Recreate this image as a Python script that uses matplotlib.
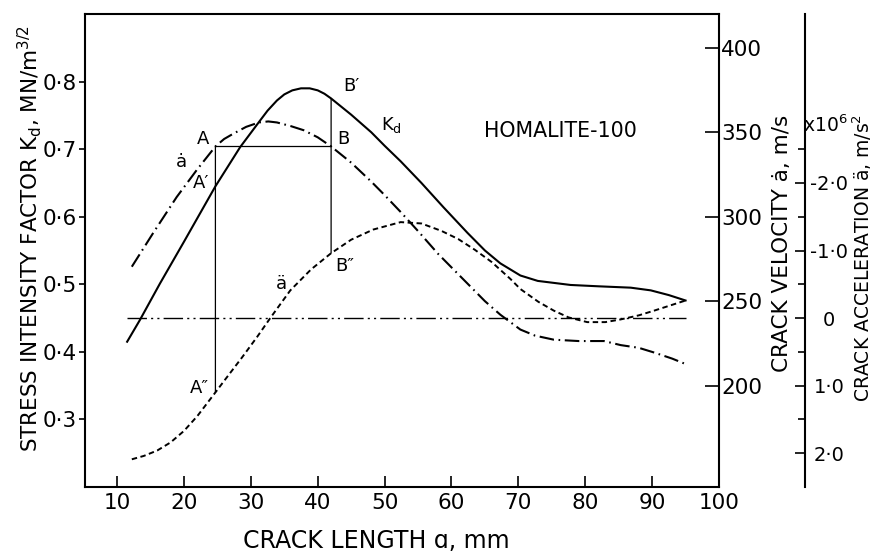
import matplotlib
matplotlib.use("Agg")
import matplotlib.pyplot as plt
from matplotlib.patches import ConnectionPatch
from matplotlib.transforms import blended_transform_factory

plt.rcParams['font.family'] = ['DejaVu Sans']
plt.rcParams['mathtext.fontset'] = 'dejavusans'

# ---------------- data ----------------
# Stress intensity factor Kd (MN/m^3/2) vs crack length (mm)
kd_x = [11.5, 13.4, 16.4, 20.0, 24.7, 28.4, 31.2, 32.5, 33.9, 35.0, 36.2, 37.5,
        38.8, 40.0, 41.0, 42.0, 43.5, 45.0, 48.0, 50.0, 52.4, 55.5, 58.8, 62.4,
        65.0, 67.3, 70.3, 72.9, 77.8, 82.0, 86.8, 89.8, 92.5, 95.0]
kd_y = [0.415, 0.447, 0.501, 0.563, 0.645, 0.703, 0.740, 0.757, 0.772, 0.781, 0.787, 0.790,
        0.790, 0.787, 0.782, 0.775, 0.763, 0.751, 0.725, 0.705, 0.682, 0.650, 0.614, 0.576,
        0.550, 0.531, 0.513, 0.505, 0.499, 0.497, 0.495, 0.491, 0.484, 0.476]

# Crack velocity (m/s)
vel_x = [12.2, 15.4, 18.9, 21.9, 24.7, 26.0, 27.4, 29.3, 31.2, 32.6, 33.9, 36.0,
         37.9, 40.0, 42.0, 45.0, 48.0, 50.0, 52.4, 55.0, 58.0, 62.0, 65.0, 67.3,
         70.3, 72.5, 75.3, 79.0, 82.8, 85.3, 88.0, 90.3, 93.0, 95.0]
vel_y = [270.4, 290.4, 311.6, 327.6, 341.6, 346.0, 349.2, 353.2, 355.8, 356.4, 355.8, 353.6,
         351.2, 347.0, 341.6, 332.0, 320.8, 312.8, 302.8, 291.5, 278.0, 262.0, 250.0, 242.0,
         233.2, 229.6, 227.2, 226.4, 226.4, 224.0, 222.4, 219.6, 216.0, 212.8]

# Crack acceleration (x10^6 m/s^2)
acc_x = [12.2, 14.0, 16.0, 18.0, 20.0, 22.0, 24.7, 26.0, 28.7, 31.0, 32.9, 35.9,
         39.0, 42.0, 45.0, 48.3, 52.4, 55.5, 58.5, 61.0, 63.5, 66.0, 68.8, 70.3,
         73.0, 75.3, 77.5, 80.3, 83.0, 85.3, 88.0, 90.3, 95.0]
acc_y = [2.09, 2.04, 1.96, 1.84, 1.67, 1.45, 1.10, 0.93, 0.58, 0.27, 0.00, -0.41,
         -0.72, -0.96, -1.16, -1.31, -1.42, -1.40, -1.29, -1.17, -1.01, -0.83, -0.58, -0.43,
         -0.24, -0.11, -0.01, 0.06, 0.06, 0.02, -0.04, -0.11, -0.26]

# zero-acceleration reference line
zero_x = [11.5, 95.0]
zero_y = [0.0, 0.0]

# construction points A and B (crack lengths)
point_a_x = 24.7
point_b_x = 42.0

# ticks
x_ticks = [10, 20, 30, 40, 50, 60, 70, 80, 90, 100]
x_tick_labels = ['10', '20', '30', '40', '50', '60', '70', '80', '90', '100']
k_ticks = [0.3, 0.4, 0.5, 0.6, 0.7, 0.8]
k_tick_labels = ['0·3', '0·4', '0·5', '0·6', '0·7', '0·8']
v_ticks = [200, 250, 300, 350, 400]
v_tick_labels = ['200', '250', '300', '350', '400']
a_ticks = [-2.0, -1.0, 0.0, 1.0, 2.0]
a_tick_labels = ['-2·0', '-1·0', '0', '1·0', '2·0']
a_minor_ticks = [-2.5, -1.5, -0.5, 0.5, 1.5]

# ---------------- figure ----------------
W, H = 873, 555
fig = plt.figure(figsize=(W / 100, H / 100), dpi=100)
L, R, T, B = 85, 719, 14, 487
ax = fig.add_axes([L / W, 1 - B / H, (R - L) / W, (B - T) / H])
ax_v = ax.twinx()
ax_a = ax.twinx()

ax.set_xlim(5.2, 100)
ax.set_ylim(0.2, 0.9)
ax_v.set_ylim(140, 420)
ax_a.set_ylim(2.5, -4.5)

lw_spine = 1.5
for s in ['top', 'left', 'bottom']:
    ax.spines[s].set_linewidth(lw_spine)
ax.spines['right'].set_visible(False)
for s in ['top', 'left', 'bottom']:
    ax_v.spines[s].set_visible(False)
    ax_a.spines[s].set_visible(False)
ax_v.spines['right'].set_linewidth(lw_spine)
ax_a.spines['right'].set_linewidth(lw_spine)
ax_a.spines['right'].set_position(('axes', (805 - L) / (R - L)))

fs_tick = 15.5
ax.set_xticks(x_ticks)
ax.set_xticklabels(x_tick_labels)
ax.set_yticks(k_ticks)
ax.set_yticklabels(k_tick_labels)
ax.tick_params(axis='x', direction='in', length=8, width=1.2, pad=4, labelsize=fs_tick, top=False)
ax.tick_params(axis='y', direction='out', length=4, width=1.2, pad=2, labelsize=fs_tick, right=False)

ax_v.set_yticks(v_ticks)
ax_v.set_yticklabels(v_tick_labels)
ax_v.tick_params(axis='y', direction='in', length=10, width=1.2, pad=1.5, labelsize=fs_tick)

ax_a.set_yticks(a_ticks)
ax_a.set_yticklabels(a_tick_labels)
ax_a.set_yticks(a_minor_ticks, minor=True)
ax_a.tick_params(axis='y', which='major', direction='in', length=7, width=1.2, pad=17.5,
                 labelsize=14)
ax_a.tick_params(axis='y', which='minor', direction='in', length=5, width=1.2)
for lbl in ax_a.get_yticklabels():
    lbl.set_horizontalalignment('center')

# ---------------- curves ----------------
ax.plot(kd_x, kd_y, color='k', lw=1.5, solid_joinstyle='round')
ax_v.plot(vel_x, vel_y, color='k', lw=1.5, linestyle=(0, (7, 2.2, 0.8, 2.2)))
ax_a.plot(acc_x, acc_y, color='k', lw=1.4, linestyle=(0, (2.8, 1.8)))
ax_a.plot(zero_x, zero_y, color='k', lw=1.0, linestyle=(0, (14, 3, 1.5, 3, 1.5, 3)))

# construction lines
ia_v = vel_x.index(point_a_x)
ib_v = vel_x.index(point_b_x)
ia_a = acc_x.index(point_a_x)
ib_a = acc_x.index(point_b_x)
ib_k = kd_x.index(point_b_x)

ax_v.plot([vel_x[ia_v], vel_x[ib_v]], [vel_y[ia_v], vel_y[ib_v]], color='k', lw=0.9)
con_a = ConnectionPatch(xyA=(point_a_x, vel_y[ia_v]), coordsA=ax_v.transData,
                        xyB=(point_a_x, acc_y[ia_a]), coordsB=ax_a.transData,
                        color='k', lw=0.9)
fig.add_artist(con_a)
con_b = ConnectionPatch(xyA=(point_b_x, kd_y[ib_k]), coordsA=ax.transData,
                        xyB=(point_b_x, acc_y[ib_a]), coordsB=ax_a.transData,
                        color='k', lw=0.9)
fig.add_artist(con_b)

# ---------------- annotations ----------------
fs_ann = 13
ax.text(22.9, 0.715, 'A', fontsize=fs_ann, ha='center', va='center')
ax.text(19.6, 0.681, 'ȧ', fontsize=fs_ann, ha='center', va='center')
ax.text(22.6, 0.650, 'A′', fontsize=fs_ann, ha='center', va='center')
ax.text(43.8, 0.715, 'B', fontsize=fs_ann, ha='center', va='center')
ax.text(45.0, 0.793, 'B′', fontsize=fs_ann, ha='center', va='center')
ax.text(51.0, 0.736, r'K$_\mathregular{d}$', fontsize=fs_ann, ha='center', va='center')
ax.text(44.0, 0.527, 'B″', fontsize=fs_ann, ha='center', va='center')
ax.text(34.6, 0.501, 'ä', fontsize=fs_ann, ha='center', va='center')
ax.text(22.3, 0.346, 'A″', fontsize=fs_ann, ha='center', va='center')
ax.text(76.3, 0.727, 'HOMALITE-100', fontsize=14.8, ha='center', va='center')

trans = blended_transform_factory(ax_a.transAxes, ax_a.transData)
ax_a.text((825 - L) / (R - L), -2.85, r'x10$^\mathregular{6}$', transform=trans,
          fontsize=13.5, ha='center', va='center')

# ---------------- axis labels ----------------
fs_lab = 15.5
ax.set_xlabel('CRACK LENGTH ɑ, mm', fontsize=17)
ax.xaxis.set_label_coords((376 - L) / (R - L), -(541 - B) / (B - T))
ax.xaxis.label.set_va('center')

ax.set_ylabel(r'STRESS INTENSITY FACTOR K$_\mathregular{d}$, MN/m$^\mathregular{3/2}$',
              fontsize=fs_lab)
ax.yaxis.set_label_coords((30 - L) / (R - L), 1 - (238 - T) / (B - T))
ax.yaxis.label.set_va('center')

ax_v.set_ylabel('CRACK VELOCITY ȧ, m/s', fontsize=fs_lab, rotation=90)
ax_v.yaxis.set_label_coords((782 - L) / (R - L), 1 - (243 - T) / (B - T))
ax_v.yaxis.label.set_va('center')

ax_a.set_ylabel(r'CRACK ACCELERATION ä, m/s$^\mathregular{2}$', fontsize=13.5, rotation=90)
ax_a.yaxis.set_label_coords((862 - L) / (R - L), 1 - (258 - T) / (B - T))
ax_a.yaxis.label.set_va('center')

fig.savefig('out.png', dpi=100)
